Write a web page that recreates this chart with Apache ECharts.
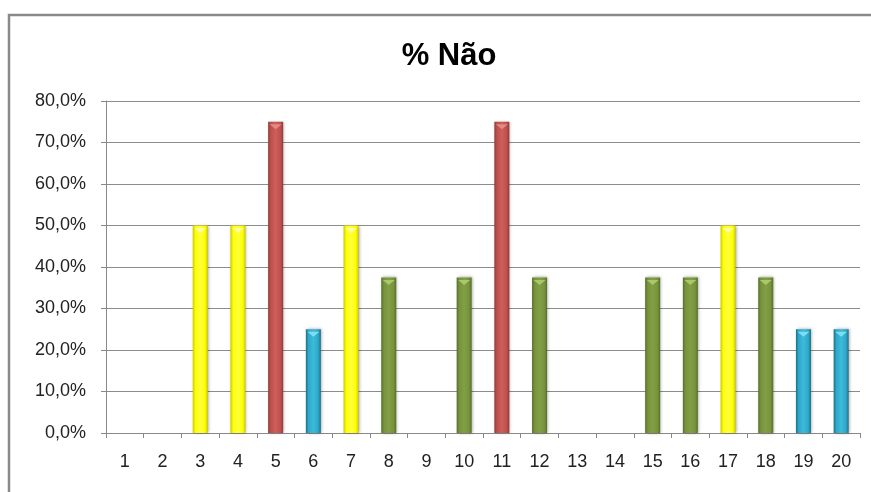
<!DOCTYPE html>
<html>
<head>
<meta charset="utf-8">
<script src="https://cdn.jsdelivr.net/npm/echarts@6/dist/echarts.min.js"></script>
<style>html,body{margin:0;padding:0;background:#fff}#c{width:871px;height:492px}</style>
</head>
<body>
<div id="c"></div>
<script>
var categories = ['1','2','3','4','5','6','7','8','9','10','11','12','13','14','15','16','17','18','19','20'];
var values = [0, 0, 50, 50, 75, 25, 50, 37.5, 0, 37.5, 75, 37.5, 0, 0, 37.5, 37.5, 50, 37.5, 25, 25];
var yTicks = [0, 10, 20, 30, 40, 50, 60, 70, 80];

function grad(edge, base, mid) {
  return new echarts.graphic.LinearGradient(0, 0, 1, 0, [
    {offset: 0, color: edge}, {offset: 0.18, color: base},
    {offset: 0.5, color: mid}, {offset: 0.82, color: base}, {offset: 1, color: edge}
  ]);
}
function vgrad(top, bottom) {
  return new echarts.graphic.LinearGradient(0, 0, 0, 1, [
    {offset: 0, color: top}, {offset: 1, color: bottom}
  ]);
}
var palette = {
  75: grad('#8E3B38', '#C0504D', '#CE5E5A'),
  50: grad('#C9C900', '#FFFF00', '#FFFF40'),
  37.5: grad('#56702A', '#77933C', '#829F45'),
  25: grad('#1D6E86', '#2FA8C8', '#3BBBDB')
};
var bevel = {75: '#E48985', 50: '#FFFFA0', 37.5: '#A9C86A', 25: '#7FDDF3'};

var chart = echarts.init(document.getElementById('c'), null, {renderer: 'canvas'});
chart.setOption({
  animation: false,
  backgroundColor: '#ffffff',
  graphic: [{
    type: 'rect', z: 100, silent: true,
    shape: {x: 9, y: 15, width: 900, height: 520},
    style: {fill: 'none', stroke: '#8a8a8a', lineWidth: 2.5}
  }],
  title: {
    text: '% Não', left: 444, top: 36, textAlign: 'center',
    textStyle: {fontFamily: 'Liberation Sans', fontWeight: 'bold', fontSize: 31, color: '#000'}
  },
  grid: {left: 106, right: 11, top: 101, bottom: 59},
  xAxis: {
    type: 'category', data: categories,
    axisLine: {lineStyle: {color: '#888', width: 1}},
    axisTick: {show: true, length: 5, lineStyle: {color: '#888'}},
    axisLabel: {margin: 20, fontFamily: 'Liberation Sans', fontSize: 18, color: '#222'}
  },
  yAxis: {
    type: 'value', min: 0, max: 80, interval: 10,
    axisLine: {show: true, lineStyle: {color: '#888', width: 1}},
    axisTick: {show: true, length: 5, lineStyle: {color: '#888'}},
    splitLine: {lineStyle: {color: '#8c8c8c', width: 1}},
    axisLabel: {
      margin: 20, fontFamily: 'Liberation Sans', fontSize: 18, color: '#222',
      formatter: function (v) { return v.toFixed(1).replace('.', ',') + '%'; }
    }
  },
  series: [{
    type: 'bar', barWidth: 15, barGap: '-100%',
    data: values,
    itemStyle: {
      color: function (p) { return palette[p.value] || '#ccc'; },
      shadowBlur: 3, shadowColor: 'rgba(0,0,0,0.35)', shadowOffsetX: 1, shadowOffsetY: 0
    }
  }, {
    type: 'pictorialBar', barGap: '-100%', z: 3,
    symbol: 'path://M0,0 L10,0 L5,4 Z',
    symbolSize: [12, 5], symbolPosition: 'end', symbolOffset: [0, '50%'],
    data: values.map(function (v) { return v > 0 ? {value: v, itemStyle: {color: bevel[v]}} : '-'; })
  }]
});
</script>
</body>
</html>
